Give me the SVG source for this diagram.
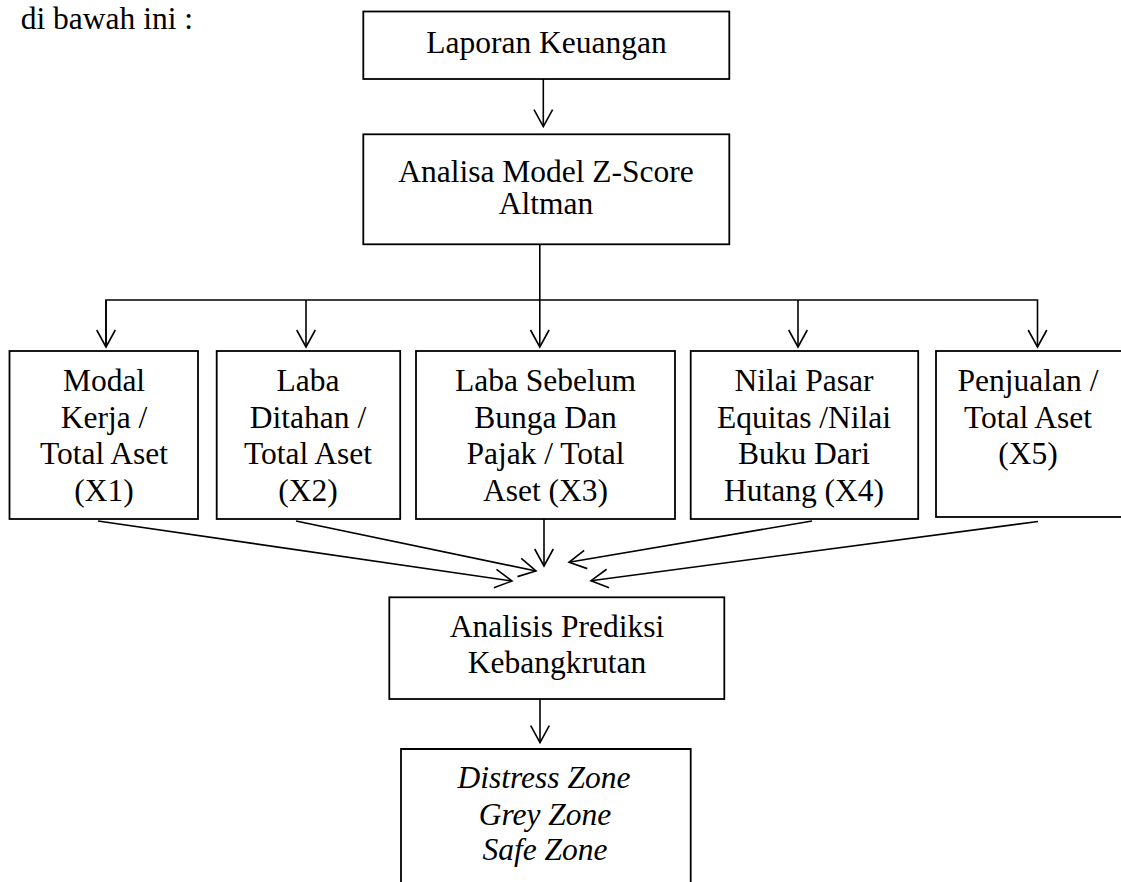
<svg xmlns="http://www.w3.org/2000/svg" width="1121" height="882" viewBox="0 0 1121 882">
<style>
.box{fill:#fff;stroke:#000;stroke-width:1.8}
.t{font-family:"Liberation Serif","Times New Roman",serif;font-size:31.5px;fill:#000;text-anchor:middle}
.ti{font-style:italic}
.c{fill:none;stroke:#000;stroke-width:1.6}
</style>
<defs>
<marker id="ah" markerUnits="userSpaceOnUse" viewBox="-20 -12 24 24" markerWidth="24" markerHeight="24" refX="0" refY="0" orient="auto">
<path d="M-17,-9.3 L0,0 L-17,9.3" fill="none" stroke="#000" stroke-width="1.6"/>
</marker>
</defs>
<rect width="1121" height="882" fill="#fff"/>
<text class="t" x="20.7" y="28.5" style="text-anchor:start">di bawah ini :</text>

<g id="n-laporan">
<rect class="box" x="363.3" y="11.5" width="366" height="67.5"/>
<text class="t" x="546.5" y="53.3">Laporan Keuangan</text>
</g>
<g id="n-analisa">
<rect class="box" x="363.3" y="134.3" width="366" height="110"/>
<text class="t" x="546" y="181.7">Analisa Model Z-Score</text>
<text class="t" x="546" y="214">Altman</text>
</g>
<g id="n-x1">
<rect class="box" x="9.5" y="351" width="188.5" height="168"/>
<text class="t" x="104" y="391">Modal</text>
<text class="t" x="104" y="427.5">Kerja /</text>
<text class="t" x="104" y="464">Total Aset</text>
<text class="t" x="104" y="500.5">(X1)</text>
</g>
<g id="n-x2">
<rect class="box" x="216.7" y="351" width="183.5" height="168"/>
<text class="t" x="308" y="391">Laba</text>
<text class="t" x="308" y="427.5">Ditahan /</text>
<text class="t" x="308" y="464">Total Aset</text>
<text class="t" x="308" y="500.5">(X2)</text>
</g>
<g id="n-x3">
<rect class="box" x="416" y="351" width="259" height="168"/>
<text class="t" x="545.5" y="391">Laba Sebelum</text>
<text class="t" x="545.5" y="427.5">Bunga Dan</text>
<text class="t" x="545.5" y="464">Pajak / Total</text>
<text class="t" x="545.5" y="500.5">Aset (X3)</text>
</g>
<g id="n-x4">
<rect class="box" x="690.7" y="351" width="227.5" height="168"/>
<text class="t" x="804" y="391">Nilai Pasar</text>
<text class="t" x="804" y="427.5">Equitas /Nilai</text>
<text class="t" x="804" y="464">Buku Dari</text>
<text class="t" x="804" y="500.5">Hutang (X4)</text>
</g>
<g id="n-x5">
<rect class="box" x="936" y="351" width="190" height="166"/>
<text class="t" x="1028" y="391">Penjualan /</text>
<text class="t" x="1028" y="427.5">Total Aset</text>
<text class="t" x="1028" y="464">(X5)</text>
</g>
<g id="n-prediksi">
<rect class="box" x="389.3" y="597.3" width="335" height="101.7"/>
<text class="t" x="557" y="636.7">Analisis Prediksi</text>
<text class="t" x="557" y="673.3">Kebangkrutan</text>
</g>
<g id="n-zone">
<path class="box" d="M401,890 L401,749 L690.7,749 L690.7,890"/>
<text class="t ti" x="544" y="788.3">Distress Zone</text>
<text class="t ti" x="545" y="825">Grey Zone</text>
<text class="t ti" x="545" y="860">Safe Zone</text>
</g>

<g id="connectors">
<line class="c" x1="543.3" y1="79" x2="543.3" y2="126.7" marker-end="url(#ah)"/>
<line class="c" x1="539.8" y1="244.3" x2="539.8" y2="347" marker-end="url(#ah)"/>
<polyline class="c" points="106,347 106,300 1037.5,300 1037.5,347" marker-end="url(#ah)"/>
<line class="c" x1="106" y1="300" x2="106" y2="347" marker-end="url(#ah)"/>
<line class="c" x1="306" y1="300" x2="306" y2="347" marker-end="url(#ah)"/>
<line class="c" x1="798" y1="300" x2="798" y2="347" marker-end="url(#ah)"/>
<line class="c" x1="544" y1="519" x2="544" y2="566" marker-end="url(#ah)"/>
<line class="c" x1="98" y1="521" x2="512" y2="581" marker-end="url(#ah)"/>
<line class="c" x1="296" y1="521" x2="536" y2="571" marker-end="url(#ah)"/>
<line class="c" x1="812" y1="521" x2="569" y2="562.3" marker-end="url(#ah)"/>
<line class="c" x1="1038" y1="521.5" x2="591" y2="580.7" marker-end="url(#ah)"/>
<line class="c" x1="540" y1="699" x2="540" y2="742.7" marker-end="url(#ah)"/>
</g>
</svg>
